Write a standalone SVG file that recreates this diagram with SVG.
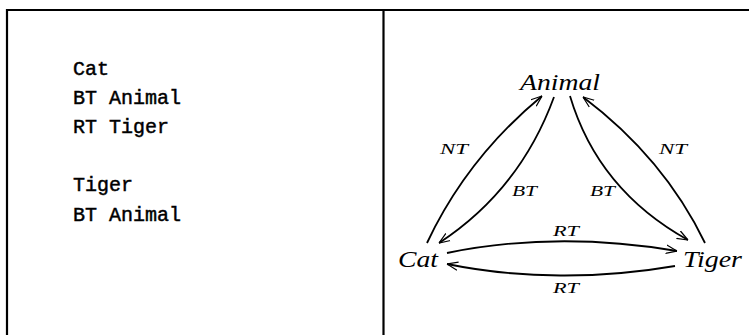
<svg xmlns="http://www.w3.org/2000/svg" width="749" height="335" viewBox="0 0 749 335">
<style>
.frame{stroke:#000;stroke-width:2.2;fill:none}
.mono{font-family:"Liberation Mono","DejaVu Sans Mono",monospace;font-size:20px;fill:#000;stroke:#000;stroke-width:0.45}
.node{font-family:"Liberation Serif","DejaVu Serif",serif;font-style:italic;font-size:24px;fill:#000}
.lbl{font-family:"Liberation Serif","DejaVu Serif",serif;font-style:italic;font-size:14px;fill:#000}
.edge{stroke:#000;stroke-width:1.8;fill:none}
</style>
<defs>
<marker id="arr" viewBox="0 0 10 10" refX="10" refY="5" markerWidth="11" markerHeight="11" markerUnits="userSpaceOnUse" orient="auto">
<path d="M0,1.2 L10,5 L0,8.8" fill="none" stroke="#000" stroke-width="1.1"/>
</marker>
</defs>
<rect width="749" height="335" fill="#fff"/>
<g id="frame">
<path class="frame" d="M7,336 V10 H749"/>
<path class="frame" d="M383.5,10 V336"/>
</g>
<g id="thesaurus-text">
<text class="mono" x="73" y="75">Cat</text>
<text class="mono" x="73" y="104">BT Animal</text>
<text class="mono" x="73" y="133">RT Tiger</text>
<text class="mono" x="73" y="191">Tiger</text>
<text class="mono" x="73" y="221">BT Animal</text>
</g>
<g id="connectors">
<path class="edge" marker-end="url(#arr)" d="M427,243 Q467,158 542,96"/>
<path class="edge" marker-end="url(#arr)" d="M554,97 Q520,190 439,243"/>
<path class="edge" marker-end="url(#arr)" d="M570,96 Q598,190 688,240"/>
<path class="edge" marker-end="url(#arr)" d="M705,243 Q664,158 583,97"/>
<path class="edge" marker-end="url(#arr)" d="M447,253 C520,238 600,238 677,251"/>
<path class="edge" marker-end="url(#arr)" d="M675,266 C600,279 520,279 447,264"/>
<text class="lbl" x="440" y="154" textLength="28" lengthAdjust="spacingAndGlyphs">NT</text>
<text class="lbl" x="512" y="196" textLength="25" lengthAdjust="spacingAndGlyphs">BT</text>
<text class="lbl" x="590" y="196" textLength="25" lengthAdjust="spacingAndGlyphs">BT</text>
<text class="lbl" x="659" y="154" textLength="28" lengthAdjust="spacingAndGlyphs">NT</text>
<text class="lbl" x="553" y="236" textLength="26" lengthAdjust="spacingAndGlyphs">RT</text>
<text class="lbl" x="553" y="293" textLength="26" lengthAdjust="spacingAndGlyphs">RT</text>
</g>
<g id="node-animal"><text class="node" x="520" y="90" textLength="80" lengthAdjust="spacingAndGlyphs">Animal</text></g>
<g id="node-cat"><text class="node" x="398" y="267" textLength="40" lengthAdjust="spacingAndGlyphs">Cat</text></g>
<g id="node-tiger"><text class="node" x="683" y="267" textLength="59" lengthAdjust="spacingAndGlyphs">Tiger</text></g>
</svg>
